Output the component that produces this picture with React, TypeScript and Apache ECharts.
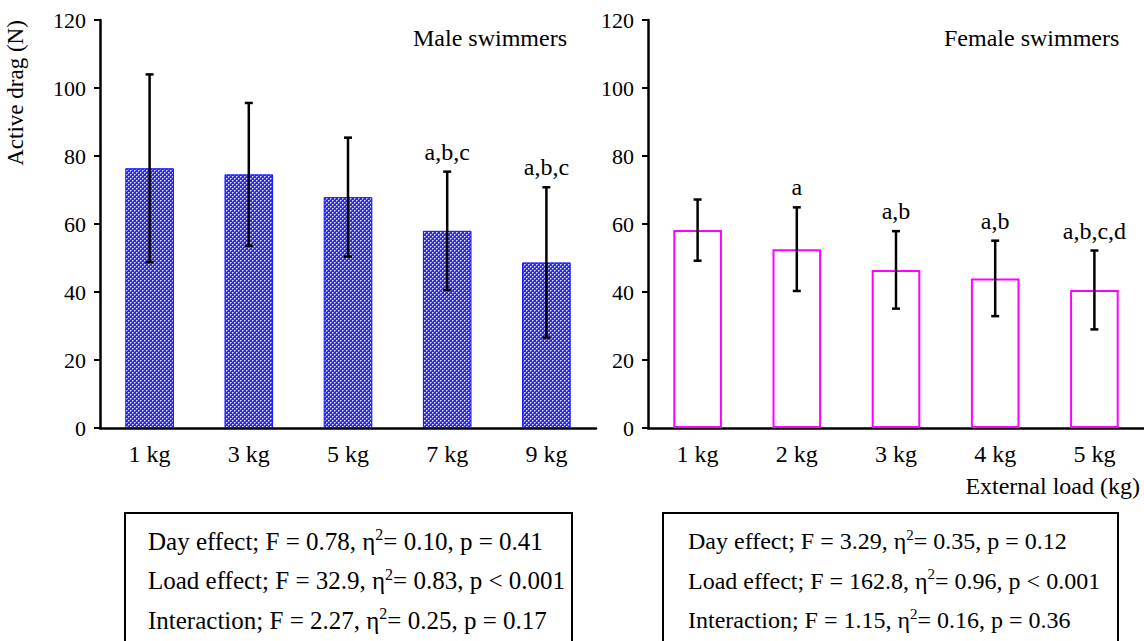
import React, { useEffect, useRef } from "react";
import * as echarts from "echarts";

const maleLoads = ["1 kg", "3 kg", "5 kg", "7 kg", "9 kg"];
const maleMeans = [76.4, 74.6, 67.9, 58.0, 48.7];
const maleSD = [27.6, 21.0, 17.5, 17.4, 22.1];
const maleLetters = ["", "", "", "a,b,c", "a,b,c"];

const femaleLoads = ["1 kg", "2 kg", "3 kg", "4 kg", "5 kg"];
const femaleMeans = [58.2, 52.6, 46.5, 44.0, 40.6];
const femaleSD = [9.0, 12.3, 11.4, 11.1, 11.6];
const femaleLetters = ["", "a", "a,b", "a,b", "a,b,c,d"];

const yTicks = { min: 0, max: 120, interval: 20 };

// "η{sup|2}" marks the squared eta with a superscript 2
const maleStats = [
  "Day effect; F = 0.78, η{sup|2}= 0.10, p = 0.41",
  "Load effect; F = 32.9, η{sup|2}= 0.83, p < 0.001",
  "Interaction; F = 2.27, η{sup|2}= 0.25, p = 0.17",
];
const femaleStats = [
  "Day effect; F = 3.29, η{sup|2}= 0.35, p = 0.12",
  "Load effect; F = 162.8, η{sup|2}= 0.96, p < 0.001",
  "Interaction; F = 1.15, η{sup|2}= 0.16, p = 0.36",
];

const FONT = "'Liberation Serif', 'Times New Roman', serif";

function makePattern(): string {
  const c = document.createElement("canvas");
  c.width = 4;
  c.height = 4;
  const ctx = c.getContext("2d")!;
  ctx.fillStyle = "#2a2aff";
  ctx.fillRect(0, 0, 4, 4);
  ctx.fillStyle = "#e0e0ff";
  ctx.fillRect(0, 0, 1, 1);
  ctx.fillRect(2, 2, 1, 1);
  ctx.fillStyle = "#8c8cff";
  ctx.fillRect(1, 0, 1, 1);
  ctx.fillRect(0, 1, 1, 1);
  ctx.fillRect(3, 2, 1, 1);
  ctx.fillRect(2, 3, 1, 1);
  return c.toDataURL();
}

function errorSeries(
  xIdx: number,
  means: number[],
  sds: number[],
  letters: string[]
): any {
  return {
    type: "custom",
    xAxisIndex: xIdx,
    yAxisIndex: xIdx,
    z: 5,
    data: means.map((m, i) => [i, m, sds[i]]),
    renderItem: (params: any, api: any) => {
      const i = api.value(0);
      const m = api.value(1);
      const s = api.value(2);
      const top = api.coord([i, m + s]);
      const bot = api.coord([i, m - s]);
      const cap = 4;
      const st = { stroke: "#000", lineWidth: 2.5 };
      const children: any[] = [
        { type: "line", shape: { x1: top[0], y1: top[1], x2: bot[0], y2: bot[1] }, style: st },
        { type: "line", shape: { x1: top[0] - cap, y1: top[1], x2: top[0] + cap, y2: top[1] }, style: st },
        { type: "line", shape: { x1: bot[0] - cap, y1: bot[1], x2: bot[0] + cap, y2: bot[1] }, style: st },
      ];
      const lab = letters[params.dataIndex];
      if (lab) {
        children.push({
          type: "text",
          style: {
            text: lab,
            x: top[0],
            y: top[1] - 20,
            align: "center",
            verticalAlign: "middle",
            fontFamily: FONT,
            fontSize: 24,
            fill: "#000",
          },
        });
      }
      return { type: "group", children };
    },
  };
}

export default function App() {
  const ref = useRef<HTMLDivElement>(null);
  useEffect(() => {
    document.body.style.margin = "0";
    const chart = echarts.init(ref.current!, null, { renderer: "svg" });
    const pattern = { image: makePattern(), repeat: "repeat", imageWidth: 4, imageHeight: 4 };

    const yAxisBase = (gi: number) => ({
      type: "value",
      gridIndex: gi,
      min: yTicks.min,
      max: yTicks.max,
      interval: yTicks.interval,
      splitLine: { show: false },
      axisLine: { show: true, lineStyle: { color: "#000", width: 2.5 } },
      axisTick: { show: true, inside: false, length: 6, lineStyle: { color: "#000", width: 2 } },
      axisLabel: { margin: 14, color: "#000", fontFamily: FONT, fontSize: 22 },
    });
    const xAxisBase = (gi: number, cats: string[]) => ({
      type: "category",
      gridIndex: gi,
      data: cats,
      axisLine: { show: true, lineStyle: { color: "#000", width: 2.5 } },
      axisTick: { show: false },
      axisLabel: { margin: 14, color: "#000", fontFamily: FONT, fontSize: 24 },
    });

    const textEl = (t: string, x: number, y: number, align = "left", size = 24) => ({
      type: "text",
      x,
      y,
      style: {
        text: t,
        fill: "#000",
        fontFamily: FONT,
        fontSize: size,
        align,
        verticalAlign: "middle",
      },
    });
    const statEl = (t: string, x: number, y: number, size: number) => ({
      type: "text",
      x,
      y,
      style: {
        text: t,
        fill: "#000",
        fontFamily: FONT,
        fontSize: size,
        lineHeight: size + 4,
        align: "left",
        verticalAlign: "middle",
        rich: {
          sup: {
            fontFamily: FONT,
            fontSize: Math.round(size * 0.62),
            fill: "#000",
            verticalAlign: "top",
            lineHeight: size + 4,
            padding: [0, 0, 10, 0],
          },
        },
      },
    });

    const graphics: any[] = [
      {
        type: "text",
        x: 15,
        y: 93,
        rotation: Math.PI / 2,
        style: {
          text: "Active drag (N)",
          fill: "#000",
          fontFamily: FONT,
          fontSize: 23,
          align: "center",
          verticalAlign: "middle",
        },
      },
      textEl("Male swimmers", 413, 38),
      textEl("Female swimmers", 944, 38),
      textEl("External load (kg)", 1140, 486, "right"),
      {
        type: "rect",
        shape: { x: 125, y: 513, width: 447, height: 140 },
        style: { fill: "none", stroke: "#000", lineWidth: 2 },
      },
      {
        type: "rect",
        shape: { x: 663, y: 513, width: 455, height: 140 },
        style: { fill: "none", stroke: "#000", lineWidth: 2 },
      },
    ];
    maleStats.forEach((s, i) => graphics.push(statEl(s, 148, 541 + i * 39.5, 25)));
    femaleStats.forEach((s, i) => graphics.push(statEl(s, 688, 541 + i * 39.5, 24)));

    chart.setOption({
      animation: false,
      backgroundColor: "#fff",
      grid: [
        { left: 100, top: 20, width: 496, height: 408 },
        { left: 648, top: 20, width: 496, height: 408 },
      ],
      xAxis: [xAxisBase(0, maleLoads), xAxisBase(1, femaleLoads)],
      yAxis: [yAxisBase(0), yAxisBase(1)],
      series: [
        {
          type: "bar",
          xAxisIndex: 0,
          yAxisIndex: 0,
          data: maleMeans,
          barWidth: "49%",
          itemStyle: { color: pattern as any, borderColor: "#1010ff", borderWidth: 1 },
        },
        errorSeries(0, maleMeans, maleSD, maleLetters),
        {
          type: "bar",
          xAxisIndex: 1,
          yAxisIndex: 1,
          data: femaleMeans,
          barWidth: "49%",
          itemStyle: { color: "#fff", borderColor: "#ff00ff", borderWidth: 2 },
        },
        errorSeries(1, femaleMeans, femaleSD, femaleLetters),
      ],
      graphic: graphics,
    });
    return () => chart.dispose();
  }, []);
  return <div ref={ref} style={{ width: 1144, height: 641 }} />;
}
